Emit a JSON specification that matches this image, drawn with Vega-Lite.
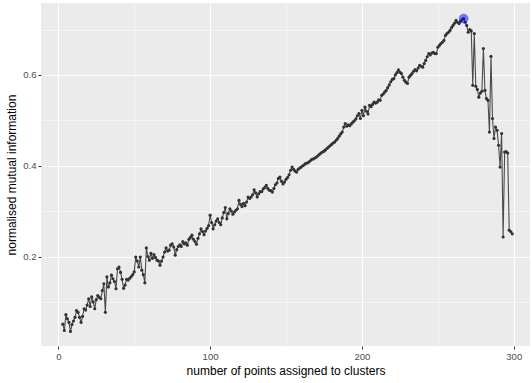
{
  "$schema": "https://vega.github.io/schema/vega-lite/v6.json",
  "width": 489,
  "height": 343,
  "autosize": "none",
  "padding": {"left": 41, "top": 3, "right": 1, "bottom": 37},
  "background": "white",
  "config": {
    "view": {"fill": "#EBEBEB", "stroke": null},
    "font": "Liberation Sans",
    "axis": {
      "domain": false,
      "gridColor": "white",
      "tickColor": "#333333",
      "tickSize": 3,
      "labelColor": "#4D4D4D",
      "labelFontSize": 9.6,
      "labelFont": "Liberation Sans",
      "titleFont": "Liberation Sans",
      "titleFontSize": 12,
      "titleFontWeight": "normal",
      "titleColor": "black"
    }
  },
  "data": {"values": [
    {"n":3,"v":0.051},{"n":4,"v":0.037},{"n":5,"v":0.072},{"n":6,"v":0.063},{"n":7,"v":0.055},{"n":8,"v":0.035},{"n":9,"v":0.050},{"n":10,"v":0.058},{"n":11,"v":0.066},{"n":12,"v":0.081},
    {"n":13,"v":0.077},{"n":14,"v":0.066},{"n":15,"v":0.055},{"n":16,"v":0.068},{"n":17,"v":0.085},{"n":18,"v":0.082},{"n":19,"v":0.093},{"n":20,"v":0.107},{"n":21,"v":0.090},{"n":22,"v":0.111},
    {"n":23,"v":0.100},{"n":24,"v":0.085},{"n":25,"v":0.105},{"n":26,"v":0.114},{"n":27,"v":0.110},{"n":28,"v":0.107},{"n":29,"v":0.125},{"n":30,"v":0.140},{"n":31,"v":0.077},{"n":32,"v":0.155},
    {"n":33,"v":0.133},{"n":34,"v":0.142},{"n":35,"v":0.159},{"n":36,"v":0.151},{"n":37,"v":0.145},{"n":38,"v":0.129},{"n":39,"v":0.173},{"n":40,"v":0.177},{"n":41,"v":0.165},{"n":42,"v":0.150},
    {"n":43,"v":0.130},{"n":44,"v":0.137},{"n":45,"v":0.150},{"n":46,"v":0.148},{"n":47,"v":0.152},{"n":48,"v":0.156},{"n":49,"v":0.160},{"n":50,"v":0.166},{"n":51,"v":0.199},{"n":52,"v":0.190},
    {"n":53,"v":0.177},{"n":54,"v":0.199},{"n":55,"v":0.170},{"n":56,"v":0.160},{"n":57,"v":0.142},{"n":58,"v":0.219},{"n":59,"v":0.200},{"n":60,"v":0.192},{"n":61,"v":0.207},{"n":62,"v":0.196},
    {"n":63,"v":0.204},{"n":64,"v":0.198},{"n":65,"v":0.192},{"n":66,"v":0.190},{"n":67,"v":0.181},{"n":68,"v":0.190},{"n":69,"v":0.199},{"n":70,"v":0.210},{"n":71,"v":0.219},{"n":72,"v":0.212},
    {"n":73,"v":0.214},{"n":74,"v":0.225},{"n":75,"v":0.228},{"n":76,"v":0.221},{"n":77,"v":0.203},{"n":78,"v":0.215},{"n":79,"v":0.222},{"n":80,"v":0.226},{"n":81,"v":0.222},{"n":82,"v":0.233},
    {"n":83,"v":0.228},{"n":84,"v":0.230},{"n":85,"v":0.225},{"n":86,"v":0.238},{"n":87,"v":0.242},{"n":88,"v":0.247},{"n":89,"v":0.238},{"n":90,"v":0.233},{"n":91,"v":0.227},{"n":92,"v":0.240},
    {"n":93,"v":0.250},{"n":94,"v":0.261},{"n":95,"v":0.255},{"n":96,"v":0.248},{"n":97,"v":0.256},{"n":98,"v":0.262},{"n":99,"v":0.268},{"n":100,"v":0.291},{"n":101,"v":0.275},{"n":102,"v":0.261},
    {"n":103,"v":0.270},{"n":104,"v":0.278},{"n":105,"v":0.283},{"n":106,"v":0.275},{"n":107,"v":0.270},{"n":108,"v":0.285},{"n":109,"v":0.297},{"n":110,"v":0.308},{"n":111,"v":0.283},{"n":112,"v":0.295},
    {"n":113,"v":0.305},{"n":114,"v":0.300},{"n":115,"v":0.293},{"n":116,"v":0.298},{"n":117,"v":0.302},{"n":118,"v":0.305},{"n":119,"v":0.324},{"n":120,"v":0.315},{"n":121,"v":0.310},{"n":122,"v":0.317},
    {"n":123,"v":0.312},{"n":124,"v":0.320},{"n":125,"v":0.331},{"n":126,"v":0.328},{"n":127,"v":0.331},{"n":128,"v":0.336},{"n":129,"v":0.347},{"n":130,"v":0.340},{"n":131,"v":0.331},{"n":132,"v":0.338},
    {"n":133,"v":0.343},{"n":134,"v":0.343},{"n":135,"v":0.349},{"n":136,"v":0.352},{"n":137,"v":0.357},{"n":138,"v":0.350},{"n":139,"v":0.346},{"n":140,"v":0.345},{"n":141,"v":0.342},{"n":142,"v":0.350},
    {"n":143,"v":0.358},{"n":144,"v":0.362},{"n":145,"v":0.372},{"n":146,"v":0.375},{"n":147,"v":0.366},{"n":148,"v":0.360},{"n":149,"v":0.364},{"n":150,"v":0.370},{"n":151,"v":0.374},{"n":152,"v":0.380},
    {"n":153,"v":0.390},{"n":154,"v":0.397},{"n":155,"v":0.392},{"n":156,"v":0.388},{"n":157,"v":0.386},{"n":158,"v":0.392},{"n":159,"v":0.395},{"n":160,"v":0.397},{"n":161,"v":0.400},{"n":162,"v":0.402},
    {"n":163,"v":0.405},{"n":164,"v":0.406},{"n":165,"v":0.408},{"n":166,"v":0.411},{"n":167,"v":0.414},{"n":168,"v":0.415},{"n":169,"v":0.417},{"n":170,"v":0.419},{"n":171,"v":0.422},{"n":172,"v":0.425},
    {"n":173,"v":0.428},{"n":174,"v":0.430},{"n":175,"v":0.432},{"n":176,"v":0.435},{"n":177,"v":0.438},{"n":178,"v":0.441},{"n":179,"v":0.444},{"n":180,"v":0.447},{"n":181,"v":0.450},{"n":182,"v":0.452},
    {"n":183,"v":0.456},{"n":184,"v":0.460},{"n":185,"v":0.465},{"n":186,"v":0.470},{"n":187,"v":0.474},{"n":188,"v":0.485},{"n":189,"v":0.493},{"n":190,"v":0.487},{"n":191,"v":0.490},{"n":192,"v":0.488},
    {"n":193,"v":0.492},{"n":194,"v":0.496},{"n":195,"v":0.499},{"n":196,"v":0.503},{"n":197,"v":0.510},{"n":198,"v":0.515},{"n":199,"v":0.504},{"n":200,"v":0.522},{"n":201,"v":0.510},{"n":202,"v":0.529},
    {"n":203,"v":0.520},{"n":204,"v":0.514},{"n":205,"v":0.533},{"n":206,"v":0.530},{"n":207,"v":0.535},{"n":208,"v":0.540},{"n":209,"v":0.538},{"n":210,"v":0.540},{"n":211,"v":0.545},{"n":212,"v":0.544},
    {"n":213,"v":0.555},{"n":214,"v":0.558},{"n":215,"v":0.562},{"n":216,"v":0.566},{"n":217,"v":0.572},{"n":218,"v":0.578},{"n":219,"v":0.585},{"n":220,"v":0.590},{"n":221,"v":0.592},{"n":222,"v":0.600},
    {"n":223,"v":0.605},{"n":224,"v":0.611},{"n":225,"v":0.606},{"n":226,"v":0.603},{"n":227,"v":0.595},{"n":228,"v":0.588},{"n":229,"v":0.584},{"n":230,"v":0.581},{"n":231,"v":0.595},{"n":232,"v":0.599},
    {"n":233,"v":0.603},{"n":234,"v":0.608},{"n":235,"v":0.612},{"n":236,"v":0.609},{"n":237,"v":0.615},{"n":238,"v":0.621},{"n":239,"v":0.619},{"n":240,"v":0.617},{"n":241,"v":0.625},{"n":242,"v":0.632},
    {"n":243,"v":0.640},{"n":244,"v":0.647},{"n":245,"v":0.644},{"n":246,"v":0.648},{"n":247,"v":0.650},{"n":248,"v":0.647},{"n":249,"v":0.647},{"n":250,"v":0.661},{"n":251,"v":0.665},{"n":252,"v":0.669},
    {"n":253,"v":0.672},{"n":254,"v":0.676},{"n":255,"v":0.687},{"n":256,"v":0.691},{"n":257,"v":0.694},{"n":258,"v":0.698},{"n":259,"v":0.704},{"n":260,"v":0.709},{"n":261,"v":0.714},{"n":262,"v":0.720},
    {"n":263,"v":0.716},{"n":264,"v":0.713},{"n":265,"v":0.718},{"n":266,"v":0.722},{"n":267,"v":0.724},{"n":268,"v":0.716},{"n":269,"v":0.709},{"n":270,"v":0.694},{"n":271,"v":0.700},{"n":272,"v":0.697},
    {"n":273,"v":0.577},{"n":274,"v":0.691},{"n":275,"v":0.575},{"n":276,"v":0.568},{"n":277,"v":0.551},{"n":278,"v":0.560},{"n":279,"v":0.564},{"n":280,"v":0.658},{"n":281,"v":0.566},{"n":282,"v":0.548},
    {"n":283,"v":0.544},{"n":284,"v":0.474},{"n":285,"v":0.641},{"n":286,"v":0.504},{"n":287,"v":0.460},{"n":288,"v":0.485},{"n":289,"v":0.478},{"n":290,"v":0.445},{"n":291,"v":0.397},{"n":292,"v":0.471},
    {"n":293,"v":0.243},{"n":294,"v":0.430},{"n":295,"v":0.431},{"n":296,"v":0.428},{"n":297,"v":0.258},{"n":298,"v":0.255},{"n":299,"v":0.250}
  ]},
  "encoding": {
    "x": {
      "field": "n", "type": "quantitative",
      "scale": {"domain": [-11.4, 310.7], "nice": false, "zero": false},
      "axis": {
        "title": "number of points assigned to clusters",
        "values": [0, 50, 100, 150, 200, 250, 300],
        "labelExpr": "datum.value % 100 === 0 ? datum.label : ''",
        "gridWidth": {"condition": {"test": "datum.value % 100 !== 0", "value": 0.5}, "value": 1.1},
        "tickOpacity": {"condition": {"test": "datum.value % 100 !== 0", "value": 0}, "value": 1},
        "labelPadding": 2,
        "titlePadding": 5
      }
    },
    "y": {
      "field": "v", "type": "quantitative",
      "scale": {"domain": [0.0029, 0.7584], "nice": false, "zero": false},
      "axis": {
        "title": "normalised mutual information",
        "values": [0.1, 0.2, 0.3, 0.4, 0.5, 0.6, 0.7],
        "format": ".1f",
        "labelExpr": "round(datum.value * 10) % 2 === 0 ? datum.label : ''",
        "gridWidth": {"condition": {"test": "round(datum.value * 10) % 2 === 1", "value": 0.5}, "value": 1.1},
        "tickOpacity": {"condition": {"test": "round(datum.value * 10) % 2 === 1", "value": 0}, "value": 1},
        "labelPadding": 2,
        "titlePadding": 4
      }
    }
  },
  "layer": [
    {"mark": {"type": "line", "color": "#4a4a4a", "strokeWidth": 1.1}},
    {"mark": {"type": "circle", "color": "#333333", "size": 10, "opacity": 1}},
    {
      "transform": [
        {"joinaggregate": [{"op": "max", "field": "v", "as": "vmax"}]},
        {"filter": "datum.v === datum.vmax"}
      ],
      "mark": {"type": "circle", "color": "blue", "size": 95, "opacity": 0.5}
    }
  ]
}
